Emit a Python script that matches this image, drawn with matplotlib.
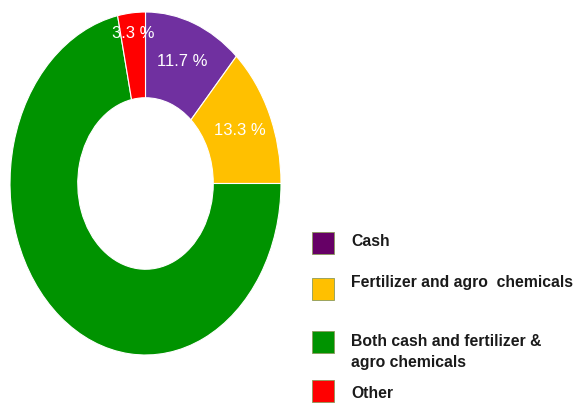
import numpy as np
import matplotlib
matplotlib.use("Agg")
from matplotlib import pyplot as plt
from matplotlib.patches import Rectangle

# share of respondents by type of support received
labels = ["Cash", "Fertilizer and agro  chemicals",
          "Both cash and fertilizer &\nagro chemicals", "Other"]
shares = [11.7, 13.3, 71.7, 3.3]
slice_colors = ["#7030A0", "#FFC000", "#009300", "#FF0000"]
key_colors = ["#660066", "#FFC000", "#009300", "#FF0000"]
show_pct = [True, True, False, True]

font = ["Liberation Sans", "DejaVu Sans"]

fig = plt.figure(figsize=(5.75, 4.03), dpi=100)
W, H = 575, 403

# the ring is stretched vertically, so use a non-equal aspect axes
ax = fig.add_axes([10 / W, (H - 355) / H, 271 / W, 343 / H])
wedges, _ = ax.pie(shares, colors=slice_colors, startangle=90, counterclock=False,
                   radius=1, wedgeprops=dict(width=0.5, edgecolor="white", linewidth=0.8))
ax.set_xlim(-1, 1)
ax.set_ylim(-1, 1)
ax.set_aspect("auto")
ax.axis("off")

# percentage labels at the middle of each slice
start = 90.0
for val, show, w in zip(shares, show_pct, wedges):
    mid = np.deg2rad(start - val * 3.6 / 2)
    start -= val * 3.6
    if not show:
        continue
    r = 0.88 if val < 5 else 0.76
    ax.text(r * np.cos(mid), r * np.sin(mid), f"{val} %", color="white",
            fontsize=12, family=font, ha="center", va="center")

# key on the right
rows = [243, 289, 342, 391]
text_rows = [242, 282, 352, 393]
for lab, col, ry, ty in zip(labels, key_colors, rows, text_rows):
    fig.patches.append(Rectangle((312 / W, (H - ry - 11) / H), 22 / W, 22 / H,
                                 transform=fig.transFigure, facecolor=col,
                                 edgecolor="#8a9a5b", linewidth=0.6))
    fig.text(351 / W, (H - ty) / H, lab, fontsize=11.3, fontweight="bold",
             family=font, color="#1a1a1a", va="center", ha="left", linespacing=1.45)

fig.savefig("out.png", dpi=100)
